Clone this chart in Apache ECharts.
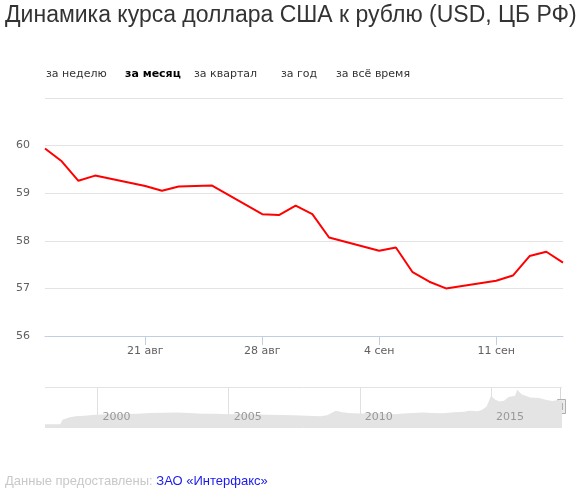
<!DOCTYPE html>
<html>
<head>
<meta charset="utf-8">
<script src="https://cdn.jsdelivr.net/npm/echarts@6/dist/echarts.min.js"></script>
<style>
  html, body { margin: 0; padding: 0; background: #fff; }
  #chart { width: 582px; height: 491px; }
</style>
</head>
<body>
<div id="chart"></div>
<script>
// курс ЦБ за месяц
const dates = [
  "2017-08-15", "2017-08-16", "2017-08-17", "2017-08-18",
  "2017-08-21", "2017-08-22", "2017-08-23", "2017-08-24", "2017-08-25",
  "2017-08-28", "2017-08-29", "2017-08-30", "2017-08-31", "2017-09-01",
  "2017-09-04", "2017-09-05", "2017-09-06", "2017-09-07", "2017-09-08",
  "2017-09-11", "2017-09-12", "2017-09-13", "2017-09-14", "2017-09-15",
];
const values = [
  59.94, 59.67, 59.26, 59.37,
  59.15, 59.05, 59.14, 59.15, 59.16,
  58.56, 58.54, 58.74, 58.56, 58.07,
  57.79, 57.86, 57.34, 57.14, 57.0,
  57.16, 57.27, 57.68, 57.77, 57.54,
];
const weekTicks = ["2017-08-21", "2017-08-28", "2017-09-04", "2017-09-11"];
const monthNames = ["янв", "фев", "мар", "апр", "май", "июн", "июл", "авг", "сен", "окт", "ноя", "дек"];

// навигатор: вся история
const navDates = [
  "1998-01", "1998-08", "1998-09", "1998-12", "1999-03", "1999-07", "1999-12",
  "2000-06", "2001-01", "2001-07", "2002-01", "2002-07", "2003-01", "2003-07",
  "2004-01", "2004-07", "2005-01", "2005-07", "2006-01", "2006-07", "2007-01",
  "2007-07", "2008-01", "2008-07", "2008-10", "2009-02", "2009-05", "2009-08",
  "2010-01", "2010-07", "2011-01", "2011-05", "2011-09", "2012-01", "2012-06",
  "2012-10", "2013-03", "2013-08", "2014-01", "2014-03", "2014-07", "2014-09",
  "2014-11", "2015-01", "2015-03", "2015-05", "2015-07", "2015-09", "2015-12",
  "2016-01", "2016-03", "2016-07", "2016-11", "2017-02", "2017-05", "2017-08",
  "2017-09-15",
];
const navValues = [
  6.0, 6.3, 16.0, 21.0, 23.5, 24.5, 26.8,
  28.2, 28.6, 29.2, 30.8, 31.4, 31.8, 30.6,
  29.0, 29.0, 28.2, 28.6, 28.0, 27.0, 26.4,
  25.8, 24.5, 23.5, 26.0, 35.5, 32.5, 31.0,
  29.5, 30.5, 29.0, 28.0, 29.5, 31.0, 32.0,
  31.0, 30.5, 32.5, 33.5, 36.0, 34.5, 38.0,
  45.0, 69.0, 60.0, 56.0, 58.0, 66.0, 69.0,
  82.0, 72.0, 65.0, 64.0, 60.0, 57.0, 59.5,
  58.0,
];
const yearTicks = ["2000-01-01", "2005-01-01", "2010-01-01", "2015-01-01"];

const buttons = ["за неделю", "за месяц", "за квартал", "за год", "за всё время"];
const buttonX = [46, 125, 194, 281, 336];

function ts(s) {
  return new Date(s).getTime();
}

const mainData = dates.map((d, i) => [ts(d), values[i]]);
const navData = navDates.map((d, i) => [ts(d), navValues[i]]);

const navMin = ts("1998-01-01");
const navMax = ts("2017-09-15");
const yearLabel = function (v) {
  return String(new Date(v).getUTCFullYear());
};

const chart = echarts.init(document.getElementById("chart"));

chart.setOption({
  animation: false,
  title: [
    {
      text: "Динамика курса доллара США к рублю (USD, ЦБ РФ)",
      left: 5,
      top: 4,
      padding: 0,
      textStyle: {
        fontFamily: "Liberation Sans",
        fontSize: 23,
        fontWeight: "normal",
        color: "#333333",
      },
    },
    {
      text: "{a|Данные предоставлены: }{b|ЗАО «Интерфакс»}",
      left: 5,
      top: 475,
      padding: 0,
      textStyle: {
        fontFamily: "Liberation Sans",
        fontSize: 13,
        fontWeight: "normal",
        rich: {
          a: { color: "#c8c8c8", fontSize: 13, fontWeight: "normal", fontFamily: "Liberation Sans" },
          b: { color: "#1a1aee", fontSize: 13, fontWeight: "normal", fontFamily: "Liberation Sans" },
        },
      },
    },
  ],
  graphic: buttons
    .map((b, i) => ({
      type: "text",
      x: buttonX[i],
      y: 74,
      style: {
        text: b,
        font: (i === 1 ? "bold " : "") + '11px "DejaVu Sans"',
        fill: i === 1 ? "#000" : "#333",
        verticalAlign: "middle",
      },
    }))
    .concat([
      {
        // ручка навигатора
        type: "group",
        x: 556,
        y: 387,
        z: 10,
        children: [
          { type: "line", shape: { x1: 4.5, y1: 0, x2: 4.5, y2: 40 }, style: { stroke: "#d8d8d8" } },
          { type: "rect", shape: { x: 1.5, y: 12.5, width: 8, height: 14 }, style: { fill: "#ebebeb", stroke: "#b0b0b0" } },
          { type: "line", shape: { x1: 4.5, y1: 16, x2: 4.5, y2: 23 }, style: { stroke: "#b0b0b0" } },
          { type: "line", shape: { x1: 6.5, y1: 16, x2: 6.5, y2: 23 }, style: { stroke: "#b0b0b0" } },
        ],
      },
    ]),
  grid: [
    { left: 45, right: 19, top: 98, height: 238 },
    { left: 45, right: 20, top: 387, height: 40 },
  ],
  xAxis: [
    {
      type: "value",
      gridIndex: 0,
      min: ts("2017-08-15"),
      max: ts("2017-09-15"),
      axisLine: { lineStyle: { color: "#c0d0e0" } },
      axisTick: {
        customValues: weekTicks.map(ts),
        length: 9,
        lineStyle: { color: "#c0d0e0" },
      },
      axisLabel: {
        customValues: weekTicks.map(ts),
        margin: 10,
        color: "#606060",
        fontFamily: "DejaVu Sans",
        fontSize: 11,
        formatter: function (v) {
          const d = new Date(v);
          return d.getUTCDate() + " " + monthNames[d.getUTCMonth()];
        },
      },
      splitLine: { show: false },
    },
    {
      // годовые линии навигатора (под областью)
      type: "value",
      gridIndex: 1,
      position: "bottom",
      min: navMin,
      max: navMax,
      axisLine: { show: false },
      axisTick: { show: false, customValues: yearTicks.map(ts) },
      axisLabel: { show: false },
      splitLine: { show: true, lineStyle: { color: "#e0e0e0" } },
    },
    {
      // подписи лет (над областью)
      type: "value",
      gridIndex: 1,
      position: "bottom",
      z: 5,
      min: navMin,
      max: navMax,
      axisLine: { show: false },
      axisTick: { show: false },
      axisLabel: {
        customValues: yearTicks.map(ts),
        inside: true,
        margin: 4,
        align: "left",
        padding: [0, 0, 0, 5],
        color: "#999999",
        fontFamily: "DejaVu Sans",
        fontSize: 11,
        formatter: yearLabel,
      },
      splitLine: { show: false },
    },
  ],
  yAxis: [
    {
      type: "value",
      gridIndex: 0,
      min: 56,
      max: 61,
      interval: 1,
      axisLine: { show: false },
      axisTick: { show: false },
      axisLabel: {
        margin: 15,
        color: "#606060",
        fontFamily: "DejaVu Sans",
        fontSize: 11,
        formatter: function (v) {
          return v === 61 ? "" : v;
        },
      },
      splitLine: { lineStyle: { color: "#e3e3e3" } },
    },
    {
      type: "value",
      gridIndex: 1,
      min: 0,
      max: 88,
      interval: 88,
      axisLine: { show: false },
      axisTick: { show: false },
      axisLabel: { show: false },
      splitLine: { lineStyle: { color: "#e3e3e3" } },
    },
  ],
  series: [
    {
      type: "line",
      xAxisIndex: 0,
      yAxisIndex: 0,
      data: mainData,
      showSymbol: false,
      lineStyle: { color: "#ff0000", width: 2 },
      itemStyle: { color: "#ff0000" },
    },
    {
      type: "line",
      xAxisIndex: 1,
      yAxisIndex: 1,
      data: navData,
      showSymbol: false,
      lineStyle: { width: 0 },
      areaStyle: { color: "#e4e4e4", opacity: 1 },
    },
  ],
});
</script>
</body>
</html>
